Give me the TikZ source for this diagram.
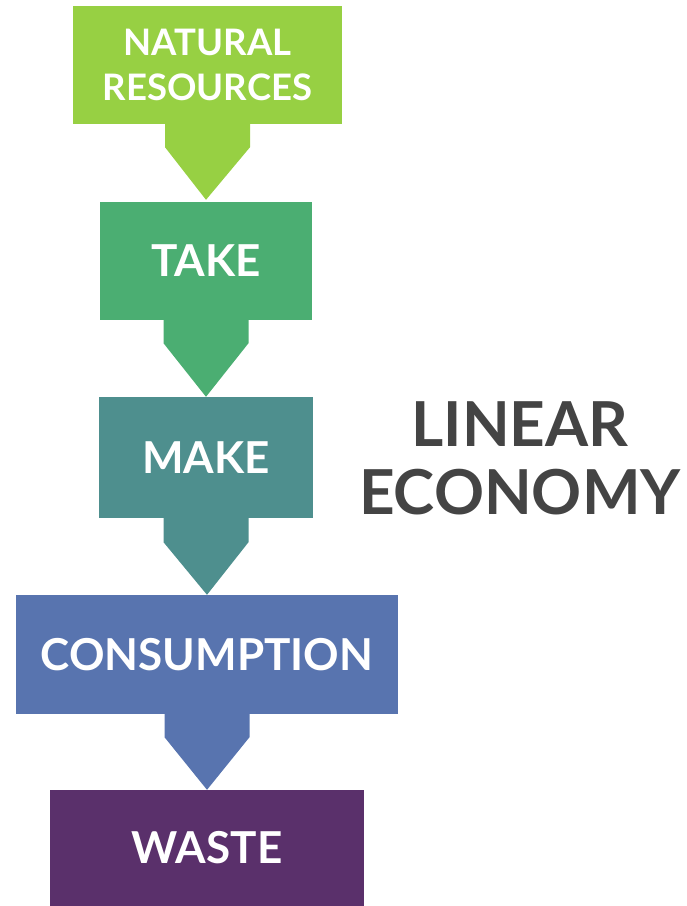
\documentclass[tikz,border=0pt]{standalone}
\usepackage{fontspec}
\setmainfont{Lato}
\definecolor{cNR}{HTML}{97D043}
\definecolor{cTake}{HTML}{4BAE72}
\definecolor{cMake}{HTML}{4E8F8E}
\definecolor{cCons}{HTML}{5874AF}
\definecolor{cWaste}{HTML}{5A306B}
\definecolor{cText}{HTML}{444444}
\begin{document}
\begin{tikzpicture}[x=1pt,y=-1pt,
  box/.style={rectangle, inner sep=0pt, text=white, align=center,
    font=\fontsize{44}{48}\selectfont\bfseries},
  title/.style={text=cText, align=center, inner sep=0pt,
    font=\fontsize{62}{68}\selectfont\bfseries}]
\useasboundingbox (0,0) rectangle (687,906);
% boxes
\node[box, fill=cNR, minimum width=269pt, minimum height=118pt,
  font=\fontsize{36.5}{45}\selectfont\bfseries] (nr) at (207.5,65) {NATURAL\\RESOURCES};
\node[box, fill=cTake, minimum width=212pt, minimum height=118pt] (take) at (206,261) {TAKE};
\node[box, fill=cMake, minimum width=214pt, minimum height=121pt] (make) at (206,457.5) {MAKE};
\node[box, fill=cCons, minimum width=382pt, minimum height=119pt] (cons) at (207,654.5) {CONSUMPTION};
\node[box, fill=cWaste, minimum width=314pt, minimum height=116pt] (waste) at (207,848) {WASTE};
% arrows
\fill[cNR] ([xshift=-42.5pt]nr.south) -- ([xshift=42.5pt]nr.south)
  -- ([xshift=42.5pt,yshift=-23pt]nr.south)
  -- ([yshift=2pt]take.north) -- ([xshift=-42.5pt,yshift=-23pt]nr.south) -- cycle;
\fill[cTake] ([xshift=-42.5pt]take.south) -- ([xshift=42.5pt]take.south)
  -- ([xshift=42.5pt,yshift=-23pt]take.south)
  -- (make.north) -- ([xshift=-42.5pt,yshift=-23pt]take.south) -- cycle;
\fill[cMake] ([xshift=-42.5pt]make.south) -- ([xshift=42.5pt]make.south)
  -- ([xshift=42.5pt,yshift=-24pt]make.south)
  -- (cons.north) -- ([xshift=-42.5pt,yshift=-24pt]make.south) -- cycle;
\fill[cCons] ([xshift=-42.5pt]cons.south) -- ([xshift=42.5pt]cons.south)
  -- ([xshift=42.5pt,yshift=-23pt]cons.south)
  -- (waste.north) -- ([xshift=-42.5pt,yshift=-23pt]cons.south) -- cycle;
% title
\node[title] (lin) at (520,458) {LINEAR\\ECONOMY};
\end{tikzpicture}
\end{document}
